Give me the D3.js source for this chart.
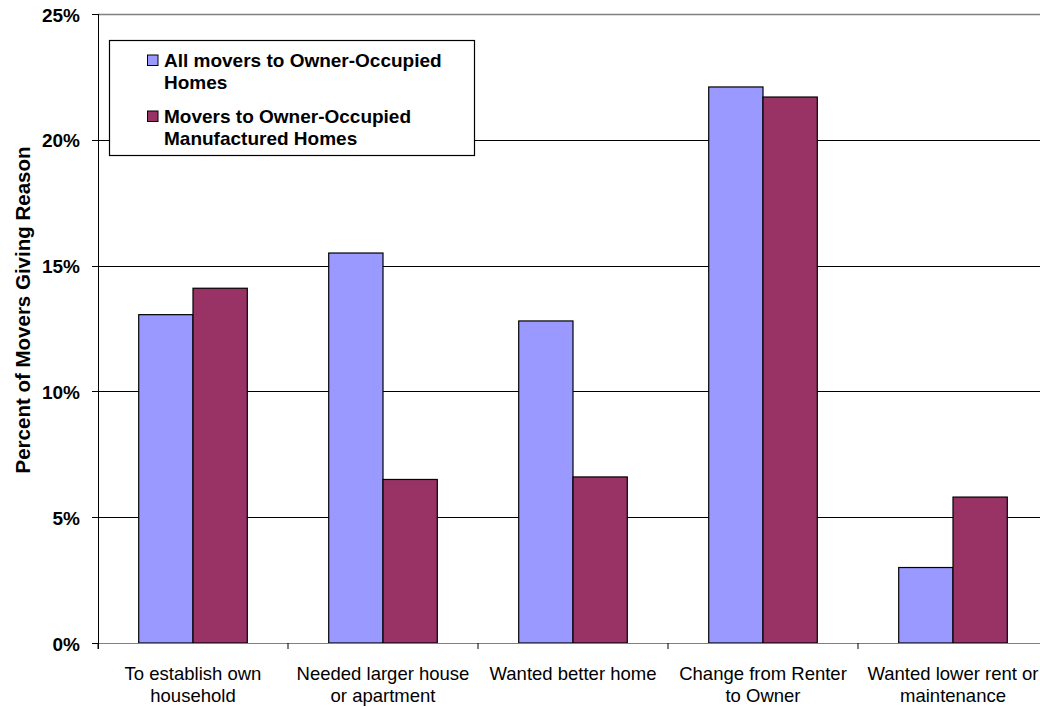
<!DOCTYPE html>
<html><head><meta charset="utf-8">
<script src="https://cdn.jsdelivr.net/npm/d3@7"></script>
<style>body{margin:0;background:#fff;} svg{display:block;font-family:Arial,"Liberation Sans",sans-serif;}</style>
</head><body>
<svg id="c" width="1040" height="707"></svg>
<script>
const categories = [["To establish own","household"],["Needed larger house","or apartment"],["Wanted better home"],["Change from Renter","to Owner"],["Wanted lower rent or","maintenance"]];
const seriesNames = [["All movers to Owner-Occupied","Homes"],["Movers to Owner-Occupied","Manufactured Homes"]];
const allMovers = [13.05, 15.5, 12.8, 22.1, 3.0];
const manufactured = [14.1, 6.5, 6.6, 21.7, 5.8];
const yTicks = [0, 5, 10, 15, 20, 25];
const colors = ["#9999FF", "#993366"];

(function () {
const svg = d3.select("#c");
const pL = 98, pR = 1048, pT = 14, pB = 643;
const x = d3.scaleBand().domain(d3.range(categories.length)).range([pL, pR]);
const y = d3.scaleLinear().domain([0, 25]).range([pB, pT]);
const gw = x.bandwidth() / 3.5;
const xs = d3.scaleBand().domain([0, 1]).range([0, 2 * gw]);

// gridlines
svg.append("g").selectAll("line").data(yTicks.filter(d => d > 0 && d < 25)).join("line")
  .attr("x1", pL).attr("x2", pR).attr("y1", d => Math.round(y(d)) + 0.5).attr("y2", d => Math.round(y(d)) + 0.5)
  .attr("stroke", "#000").attr("stroke-width", 1);
// plot border top
svg.append("line").attr("x1", pL).attr("x2", pR).attr("y1", Math.round(y(25)) + 0.5).attr("y2", Math.round(y(25)) + 0.5)
  .attr("stroke", "#808080").attr("stroke-width", 1.5);

// bars
const series = [allMovers, manufactured];
series.forEach((vals, si) => {
  svg.append("g").selectAll("rect").data(vals).join("rect")
    .attr("x", (d, i) => x(i) + (x.bandwidth() - 2 * gw) / 2 + xs(si))
    .attr("y", d => y(d))
    .attr("width", xs.bandwidth())
    .attr("height", d => pB - y(d))
    .attr("fill", colors[si]).attr("stroke", "#000").attr("stroke-width", 1.2);
});

// x axis
svg.append("line").attr("x1", pL).attr("x2", pR).attr("y1", pB + 0.5).attr("y2", pB + 0.5).attr("stroke", "#808080").attr("stroke-width", 1.2);
const xa = svg.append("g");
const bounds = d3.range(categories.length + 1).map(i => pL + i * x.step());
xa.selectAll("line").data(bounds).join("line")
  .attr("x1", d => d).attr("x2", d => d).attr("y1", pB).attr("y2", pB + 6).attr("stroke", "#000");
categories.forEach((lines, i) => {
  const cx = x(i) + x.bandwidth() / 2;
  const t = xa.append("text").attr("x", cx).attr("y", 680)
    .attr("text-anchor", "middle").attr("font-size", 18.5).attr("fill", "#000");
  lines.forEach((l, j) => t.append("tspan").attr("x", cx).attr("dy", j === 0 ? 0 : 22).text(l));
});

// y axis
svg.append("line").attr("x1", pL + 0.5).attr("x2", pL + 0.5).attr("y1", pT).attr("y2", pB + 6).attr("stroke", "#000");
const ya = svg.append("g");
ya.selectAll("line").data(yTicks).join("line")
  .attr("x1", pL - 6).attr("x2", pL).attr("y1", d => Math.round(y(d)) + 0.5).attr("y2", d => Math.round(y(d)) + 0.5).attr("stroke", "#000");
ya.selectAll("text").data(yTicks).join("text")
  .attr("x", 80).attr("y", d => y(d) + 7.5).attr("text-anchor", "end")
  .attr("font-size", 19).attr("font-weight", "bold").text(d => d + "%");

svg.append("text").attr("transform", "translate(30,310) rotate(-90)")
  .attr("text-anchor", "middle").attr("font-size", 20.5).attr("font-weight", "bold").text("Percent of Movers Giving Reason");

// legend
const lg = svg.append("g");
lg.append("rect").attr("x", 109.5).attr("y", 40.5).attr("width", 365).attr("height", 115).attr("fill", "#fff").attr("stroke", "#000").attr("stroke-width", 1.2);
const legY = [[66.5, 89], [122.5, 145]];
seriesNames.forEach((lines, i) => {
  lg.append("rect").attr("x", 147.5).attr("y", legY[i][0] - 11.5).attr("width", 10.5).attr("height", 10.5)
    .attr("fill", colors[i]).attr("stroke", "#000");
  lines.forEach((l, j) => lg.append("text").attr("x", 164).attr("y", legY[i][j])
    .attr("font-size", 19).attr("font-weight", "bold").text(l));
});
})();
</script>
</body></html>
